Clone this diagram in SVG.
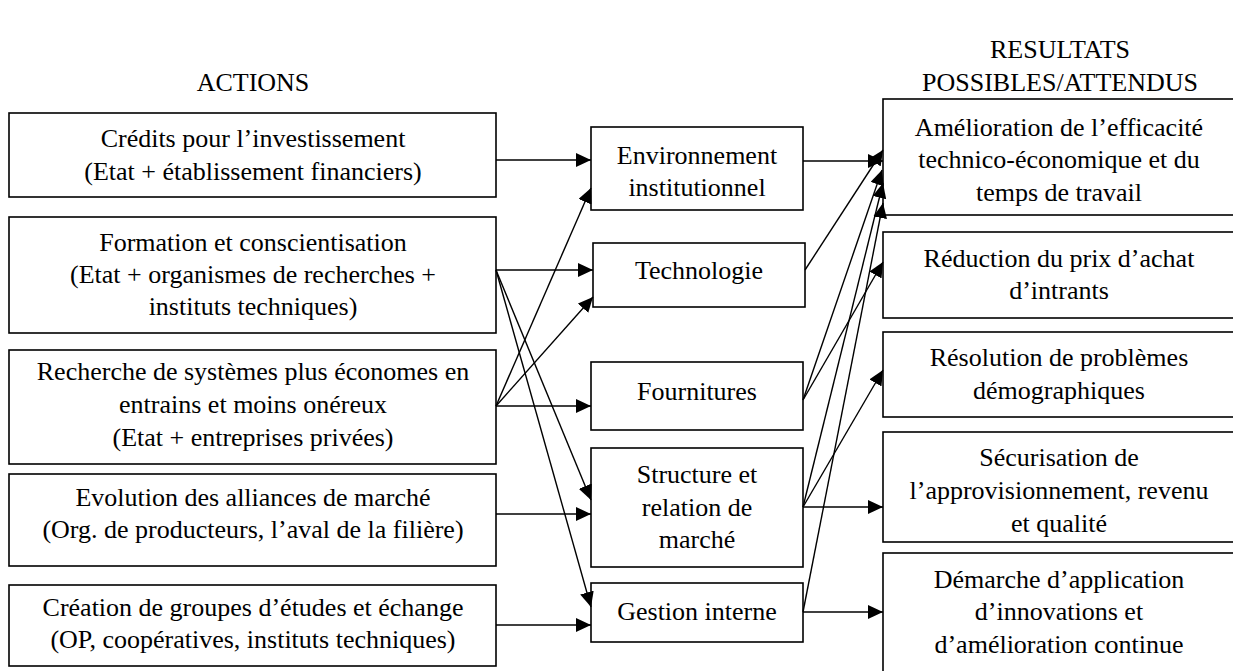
<svg xmlns="http://www.w3.org/2000/svg" width="1233" height="671" viewBox="0 0 1233 671">
<defs>
<marker id="ah" markerUnits="userSpaceOnUse" markerWidth="16" markerHeight="14" refX="15" refY="7" orient="auto">
<path d="M0,0 L15,7 L0,14 z" fill="#000"/>
</marker>
<style>
rect{fill:#fff;stroke:#000;stroke-width:1.6}
text{font-family:"Liberation Serif","Times New Roman",serif;font-size:26px;fill:#000;text-anchor:middle}
.c line{stroke:#000;stroke-width:1.4;marker-end:url(#ah)}
</style>
</defs>
<rect x="0" y="0" width="1233" height="671" style="stroke:none"/>
<g id="headers">
<text x="253" y="91">ACTIONS</text>
<text x="1060" y="58">RESULTATS</text>
<text x="1060" y="91">POSSIBLES/ATTENDUS</text>
</g>
<g id="a1"><rect x="9" y="113" width="487" height="84"/>
<text x="253" y="147">Crédits pour l’investissement</text>
<text x="253" y="180">(Etat + établissement financiers)</text></g>
<g id="a2"><rect x="9" y="217" width="487" height="116"/>
<text x="253" y="251">Formation et conscientisation</text>
<text x="253" y="283">(Etat + organismes de recherches +</text>
<text x="253" y="315">instituts techniques)</text></g>
<g id="a3"><rect x="9" y="350" width="487" height="114"/>
<text x="253" y="380">Recherche de systèmes plus économes en</text>
<text x="253" y="413">entrains et moins onéreux</text>
<text x="253" y="446">(Etat + entreprises privées)</text></g>
<g id="a4"><rect x="9" y="474" width="487" height="92"/>
<text x="253" y="506">Evolution des alliances de marché</text>
<text x="253" y="538">(Org. de producteurs, l’aval de la filière)</text></g>
<g id="a5"><rect x="9" y="585" width="487" height="81"/>
<text x="253" y="616">Création de groupes d’études et échange</text>
<text x="253" y="648">(OP, coopératives, instituts techniques)</text></g>

<g id="m1"><rect x="591" y="127" width="212" height="83"/>
<text x="697" y="164">Environnement</text>
<text x="697" y="196">institutionnel</text></g>
<g id="m2"><rect x="593" y="243" width="212" height="64"/>
<text x="699" y="279">Technologie</text></g>
<g id="m3"><rect x="591" y="362" width="212" height="68"/>
<text x="697" y="400">Fournitures</text></g>
<g id="m4"><rect x="591" y="448" width="212" height="119"/>
<text x="697" y="483">Structure et</text>
<text x="697" y="516">relation de</text>
<text x="697" y="548">marché</text></g>
<g id="m5"><rect x="591" y="583" width="212" height="59"/>
<text x="697" y="620">Gestion interne</text></g>

<g id="r1"><rect x="883" y="99" width="354" height="116"/>
<text x="1059" y="136">Amélioration de l’efficacité</text>
<text x="1059" y="168">technico-économique et du</text>
<text x="1059" y="201">temps de travail</text></g>
<g id="r2"><rect x="883" y="232" width="354" height="86"/>
<text x="1059" y="267">Réduction du prix d’achat</text>
<text x="1059" y="299">d’intrants</text></g>
<g id="r3"><rect x="883" y="332" width="354" height="85"/>
<text x="1059" y="366">Résolution de problèmes</text>
<text x="1059" y="399">démographiques</text></g>
<g id="r4"><rect x="883" y="432" width="354" height="110"/>
<text x="1059" y="466">Sécurisation de</text>
<text x="1059" y="499">l’approvisionnement, revenu</text>
<text x="1059" y="532">et qualité</text></g>
<g id="r5"><rect x="883" y="553" width="354" height="130"/>
<text x="1059" y="588">Démarche d’application</text>
<text x="1059" y="620">d’innovations et</text>
<text x="1059" y="653">d’amélioration continue</text></g>

<g id="connectors" class="c">
<line x1="496" y1="160" x2="591" y2="160"/>
<line x1="496" y1="270" x2="593" y2="270"/>
<line x1="496" y1="270" x2="591" y2="500"/>
<line x1="496" y1="270" x2="591" y2="607"/>
<line x1="496" y1="406" x2="591" y2="188"/>
<line x1="496" y1="406" x2="593" y2="297"/>
<line x1="496" y1="406" x2="591" y2="406"/>
<line x1="496" y1="514" x2="591" y2="514"/>
<line x1="496" y1="625" x2="591" y2="625"/>

<line x1="803" y1="161" x2="883" y2="161"/>
<line x1="805" y1="270" x2="883" y2="150"/>
<line x1="803" y1="400" x2="882" y2="170"/>
<line x1="803" y1="400" x2="883" y2="262"/>
<line x1="803" y1="507" x2="883" y2="183"/>
<line x1="803" y1="507" x2="883" y2="370"/>
<line x1="803" y1="507" x2="883" y2="507"/>
<line x1="803" y1="612" x2="883" y2="203"/>
<line x1="803" y1="612" x2="883" y2="612"/>
</g>
</svg>
